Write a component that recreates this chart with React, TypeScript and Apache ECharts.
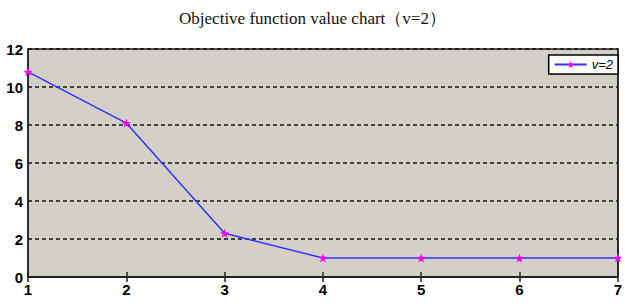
import React, { useEffect, useRef } from "react";
import * as echarts from "echarts";

const xValues = [1, 2, 3, 4, 5, 6, 7];
const yValues = [10.8, 8.1, 2.3, 1.0, 1.0, 1.0, 1.0];
const seriesName = "v=2";
const titleText = "Objective function value chart（v=2）";

const starPath =
  "path://M0,-10 L2.4,-3.3 L9.5,-3.1 L3.9,1.3 L5.9,8.1 L0,4.1 L-5.9,8.1 L-3.9,1.3 L-9.5,-3.1 L-2.4,-3.3 Z";

export default function App() {
  const ref = useRef<HTMLDivElement>(null);
  useEffect(() => {
    if (!ref.current) return;
    const chart = echarts.init(ref.current, null, { renderer: "svg" });
    const data = xValues.map((x, i) => [x, yValues[i]]);
    chart.setOption({
      animation: false,
      backgroundColor: "#ffffff",
      title: {
        text: titleText,
        left: "center",
        top: 5,
        textStyle: {
          fontFamily: "Liberation Serif",
          fontWeight: "normal",
          fontSize: 17,
          color: "#111",
        },
      },
      legend: {
        right: 7,
        top: 55,
        orient: "vertical",
        backgroundColor: "#ffffff",
        borderColor: "#000",
        borderWidth: 1.5,
        borderRadius: 0,
        padding: [3, 5, 3, 5],
        itemWidth: 32,
        itemHeight: 9,
        itemGap: 4,
        textStyle: { fontFamily: "Liberation Sans", fontStyle: "italic", fontSize: 13, color: "#000" },
        data: [seriesName],
      },
      grid: { left: 28, right: 3, top: 49, bottom: 27, show: true, backgroundColor: "#d4d0c8", borderColor: "#222", borderWidth: 1.5 },
      xAxis: [
        {
          type: "value",
          min: 1,
          max: 7,
          interval: 1,
          axisLine: { lineStyle: { color: "#222", width: 1.5 } },
          axisTick: { inside: true, length: 5, lineStyle: { color: "#222", width: 1.5 } },
          axisLabel: {
            fontFamily: "Liberation Sans",
            fontWeight: "bold",
            fontSize: 15,
            color: "#000",
            margin: 5,
          },
          splitLine: { show: false },
        },
        {
          type: "value",
          position: "top",
          min: 1,
          max: 7,
          interval: 1,
          axisLine: { show: true, lineStyle: { color: "#222", width: 1.5 } },
          axisTick: { inside: true, length: 5, lineStyle: { color: "#222", width: 1.5 } },
          axisLabel: { show: false },
          splitLine: { show: false },
        },
      ],
      yAxis: [
        {
          type: "value",
          min: 0,
          max: 12,
          interval: 2,
          axisLine: { show: true, lineStyle: { color: "#222", width: 1.5 } },
          axisTick: { show: false },
          axisLabel: {
            fontFamily: "Liberation Sans",
            fontWeight: "bold",
            fontSize: 15,
            color: "#000",
            margin: 5,
          },
          splitLine: { show: true, lineStyle: { color: "#111", type: [4, 3], width: 1.5 } },
        },
        {
          type: "value",
          position: "right",
          min: 0,
          max: 12,
          interval: 2,
          axisLine: { show: true, lineStyle: { color: "#222", width: 1.5 } },
          axisTick: { show: false },
          axisLabel: { show: false },
          splitLine: { show: false },
        },
      ],
      series: [
        {
          name: seriesName,
          type: "line",
          data,
          symbol: starPath,
          symbolSize: 9,
          itemStyle: { color: "#ff00ff" },
          lineStyle: { color: "#3030ff", width: 1.5 },
          z: 5,
        },
      ],
    });
    return () => chart.dispose();
  }, []);
  return (
    <div
      ref={ref}
      style={{ position: "fixed", left: 0, top: 0, width: 625, height: 304 }}
    />
  );
}
